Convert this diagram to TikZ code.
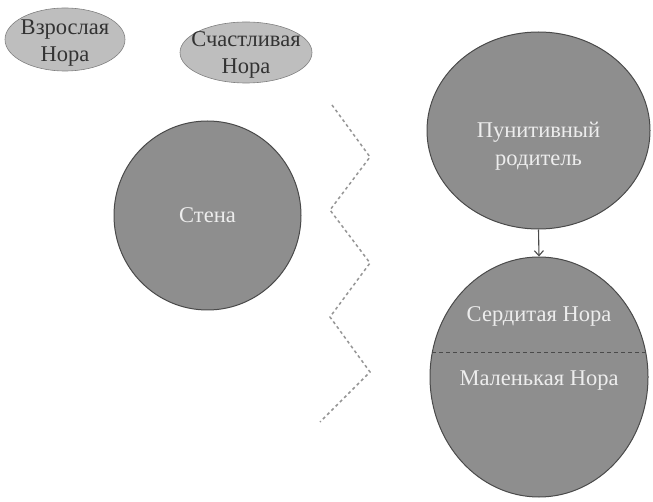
\documentclass[tikz,border=0pt]{standalone}
\usepackage{fontspec}
\setmainfont{Liberation Serif}
\usetikzlibrary{shapes.geometric,arrows.meta,calc}
\definecolor{darkfill}{HTML}{8E8E8E}
\definecolor{lightfill}{HTML}{BEBEBE}
\definecolor{edgecol}{HTML}{4A4A4A}
\definecolor{zigcol}{HTML}{959595}
\definecolor{lighttext}{HTML}{EDEDED}
\tikzset{
  bigcirc/.style={ellipse, draw=edgecol, line width=1pt, fill=darkfill, inner sep=0pt,
    text=lighttext, align=center, font=\fontsize{22.5}{28}\selectfont},
  smallell/.style={ellipse, draw=edgecol!70, line width=0.6pt, fill=lightfill, inner sep=0pt},
  darktxt/.style={text=black!80, align=center, font=\fontsize{22.5}{27}\selectfont, inner sep=0pt},
  txt/.style={text=lighttext, font=\fontsize{22.5}{28}\selectfont, inner sep=0pt},
  zig/.style={draw=zigcol, line width=1.5pt, dash pattern=on 3pt off 3pt},
}
\begin{document}
\begin{tikzpicture}[x=1pt,y=-1pt]
\useasboundingbox (0,0) rectangle (653,502);
% top ellipses
\node[smallell, minimum width=120pt, minimum height=63pt] (adult) at (65,39.5) {};
\node[darktxt] (adulttext) at (65,43) {Взрослая\\Нора};
\node[smallell, minimum width=132pt, minimum height=61pt] (happy) at (246,52.5) {};
\node[darktxt] (happytext) at (246,55) {Счастливая\\Нора};
% wall circle
\node[bigcirc, minimum width=187pt, minimum height=189pt] (wall) at (207.5,215.5) {Стена};
% punitive parent
\node[bigcirc, minimum width=223pt, minimum height=197pt] (parent) at (538.5,130.5) {};
\node[txt, align=center] (parenttext) at (538.5,146) {Пунитивный\\родитель};
% bottom ellipse
\node[bigcirc, minimum width=218pt, minimum height=240pt] (nora) at (539,377) {};
\node[txt] (angry) at (539,316) {Сердитая Нора};
\node[txt] (little) at (539,381) {Маленькая Нора};
\coordinate (chordL) at ($(nora.center)+(-106.8,-24)$);
\coordinate (chordR) at ($(nora.center)+(106.8,-24)$);
\draw[edgecol, line width=1pt, dash pattern=on 4pt off 3pt] (chordL) -- (chordR);
% arrow
\draw[edgecol, line width=1.1pt, -{Straight Barb[length=5pt,width=9pt]}] (parent.south) -- (nora.north);
% zigzag
\draw[zig] (332,105) -- (370,157) -- (330,210) -- (370,263) -- (330,317) -- (370,372) -- (320,422);
\end{tikzpicture}
\end{document}
